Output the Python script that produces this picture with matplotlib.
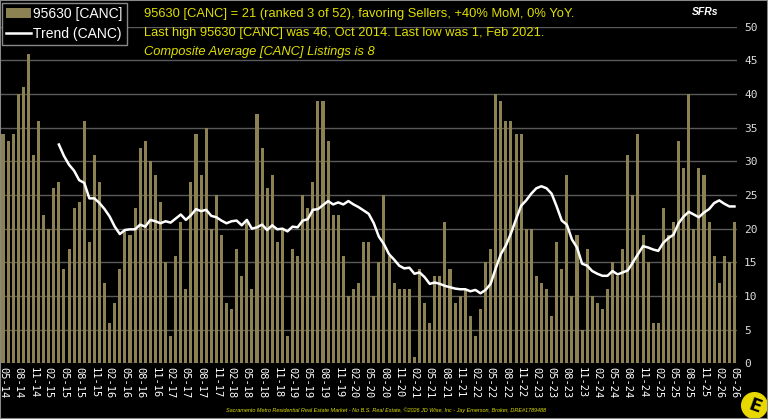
import numpy as np
import pandas as pd
import matplotlib
matplotlib.use("Agg")
import matplotlib.pyplot as plt
from matplotlib.patches import Circle, Rectangle

# monthly CANC listings, 05-2014 .. 05-2026
canc = [34, 33, 34, 40, 41, 46, 31, 36, 22, 20, 26, 27,
        14, 17, 23, 24, 36, 18, 31, 27, 12, 6, 9, 14,
        20, 19, 23, 32, 33, 30, 28, 24, 15, 4, 16, 21,
        11, 27, 34, 28, 35, 20, 25, 19, 9, 8, 17, 13,
        21, 11, 37, 32, 26, 28, 18, 20, 4, 17, 16, 25,
        23, 27, 39, 39, 33, 22, 22, 16, 10, 11, 12, 18,
        18, 10, 15, 25, 16, 12, 11, 11, 11, 1, 14, 9,
        6, 13, 13, 21, 14, 9, 10, 11, 7, 4, 8, 15,
        17, 40, 39, 36, 36, 34, 34, 20, 20, 13, 12, 11,
        7, 18, 14, 28, 10, 19, 5, 17, 10, 9, 8, 11,
        15, 13, 17, 31, 25, 34, 19, 15, 6, 6, 23, 19,
        21, 33, 29, 40, 20, 29, 28, 21, 16, 12, 16, 15,
        21]

# trend line (starts 04-2015)
trend_start = 11
trend = [32.5, 30.8, 29.5, 28.6, 27.2, 26.8, 24.5, 24.5, 23.8, 22.9, 21.8, 20.3,
         19.2, 19.8, 19.9, 19.9, 20.6, 20.3, 21.3, 21.1, 20.8, 21.1, 20.9, 21.5,
         22.1, 21.3, 22.0, 22.9, 22.6, 22.8, 21.9, 21.7, 21.2, 20.8, 21.1, 21.2,
         20.5, 21.3, 20.0, 20.2, 20.6, 19.8, 20.5, 19.9, 20.0, 19.6, 20.3, 20.2,
         21.2, 21.4, 22.8, 22.9, 23.5, 24.1, 23.6, 23.9, 23.6, 24.1, 23.6, 23.2,
         22.7, 22.2, 20.8, 18.8, 17.7, 16.2, 15.4, 14.5, 14.1, 14.2, 13.3, 13.5,
         12.8, 11.8, 12.0, 11.8, 11.5, 11.3, 11.1, 11.0, 11.0, 10.7, 10.9, 10.4,
         10.9, 11.8, 14.1, 16.2, 17.5, 19.3, 21.4, 23.4, 24.2, 25.2, 26.0, 26.3,
         26.0, 25.2, 23.3, 21.2, 20.6, 18.4, 17.2, 14.8, 14.5, 13.7, 13.3, 13.0,
         13.0, 13.7, 13.2, 13.5, 13.8, 15.0, 16.2, 17.4, 17.2, 16.9, 16.7, 17.9,
         18.6, 19.1, 20.8, 21.8, 22.5, 22.1, 21.7, 22.4, 22.9, 23.8, 24.2, 23.7,
         23.3, 23.3]

months = pd.period_range("2014-05", periods=len(canc), freq="M").strftime("%m-%y").tolist()

title1 = "95630 [CANC] = 21 (ranked 3 of 52), favoring Sellers, +40% MoM, 0% YoY."
title2 = "Last high 95630 [CANC] was 46, Oct 2014. Last low was 1, Feb 2021."
title3 = "Composite Average [CANC] Listings is 8"
footer = ("Sacramento Metro Residential Real Estate Market - No B.S. Real Estate, "
          "\u00a92026 JD Wise, Inc - Jay Emerson, Broker, DRE#1789488")

W, H = 768, 419
BAR = "#8b8152"
YEL = "#e0e000"

fig = plt.figure(figsize=(W / 100, H / 100), dpi=100, facecolor="black")
ax = fig.add_axes([0, (H - 363.3) / H, 737 / W, (363.3 - 26.7) / H], facecolor="black")

x = np.arange(len(canc))
bars = ax.bar(x, canc, width=0.6, color=BAR, zorder=2, label="95630 [CANC]")
tx = np.arange(trend_start, trend_start + len(trend))
line, = ax.plot(tx, trend, color="white", lw=1.8, zorder=3, label="Trend (CANC)")

ax.set_xlim(-0.59, 144.5)
ax.set_ylim(0, 50)
ax.set_yticks(range(0, 51, 5))
ax.yaxis.tick_right()
ax.grid(axis="y", color="#5a5a5a", lw=1, zorder=0)
for s in ax.spines.values():
    s.set_visible(False)
ax.tick_params(axis="y", length=0, pad=5, labelcolor="#dddddd", labelsize=8)
for lab in ax.get_yticklabels():
    lab.set_family("DejaVu Sans Mono")

ax.set_xticks(x[::3])
ax.set_xticklabels(months[::3], rotation=-90, family="DejaVu Sans Mono",
                   fontsize=7.5, color="white")
ax.tick_params(axis="x", length=0, pad=3)

fig.legend([bars, line], ["95630 [CANC]", "Trend (CANC)"],
           loc="upper left", bbox_to_anchor=(2 / W, 1 - 3 / H), borderaxespad=0,
           frameon=True, fancybox=False, facecolor="black", edgecolor="#888888",
           framealpha=1, labelcolor="white", prop={"family": "Liberation Sans", "size": 10},
           handlelength=1.8, handletextpad=0.15, borderpad=0.3, labelspacing=0.4)

fig.text(144 / W, 1 - 14 / H, title1, color=YEL, family="Liberation Sans", fontsize=9.3, va="center")
fig.text(144 / W, 1 - 33 / H, title2, color=YEL, family="Liberation Sans", fontsize=9.3, va="center")
fig.text(144 / W, 1 - 52 / H, title3, color=YEL, family="Liberation Sans", fontsize=9.3,
         va="center", style="italic")
fig.text(718 / W, 1 - 12 / H, "SFRs", color="white", family="Liberation Sans", fontsize=7.5,
         ha="right", va="center", style="italic", weight="bold")
fig.text(386 / W, 1 - 410 / H, footer, color=YEL, family="Liberation Sans", fontsize=4.0,
         ha="center", va="center", style="italic")

# logo
lax = fig.add_axes([741 / W, 0, 27 / W, 27 / H])
lax.set_xlim(-1, 1)
lax.set_ylim(-1, 1)
lax.set_aspect("equal")
lax.axis("off")
lax.add_patch(Circle((0, 0), 0.95, color="#e8d800"))
lax.text(0, -0.05, "E", color="black", fontsize=13, weight="bold", ha="center", va="center",
         family="DejaVu Sans", rotation=-20)

fig.add_artist(Rectangle((0, 0), 1, 1, transform=fig.transFigure, fill=False,
                         edgecolor="#888888", lw=1.5))

fig.savefig("out.png", dpi=100, facecolor="black")
